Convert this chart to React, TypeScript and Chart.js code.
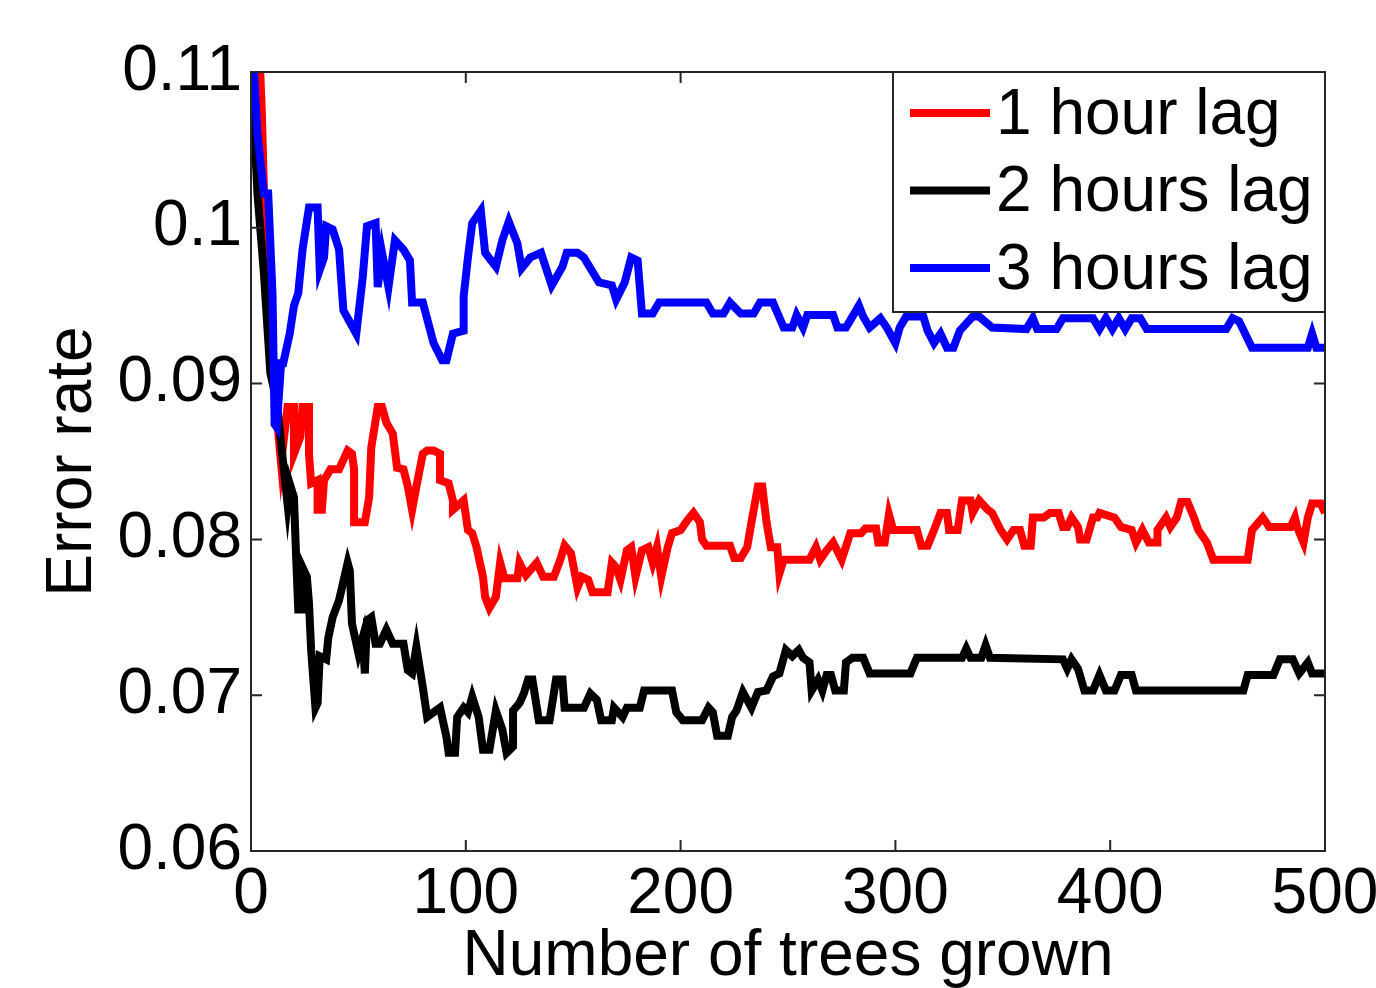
import React, { useEffect, useRef } from "react";
import { Chart, registerables } from "chart.js";

Chart.register(...registerables);

const FONT = "'Liberation Sans', Arial, Helvetica, sans-serif";

const seriesNames = ["1 hour lag", "2 hours lag", "3 hours lag"];
const seriesColors = ["#ff0000", "#000000", "#0000ff"];

const xTickValues = [0, 100, 200, 300, 400, 500];
const xTickLabels = ["0", "100", "200", "300", "400", "500"];
const yTickValues = [0.06, 0.07, 0.08, 0.09, 0.1, 0.11];
const yTickLabels = ["0.06", "0.07", "0.08", "0.09", "0.1", "0.11"];

const xTitle = "Number of trees grown";
const yTitle = "Error rate";

// [number of trees, error rate]
const oneHourLag: [number, number][] = [
  [1, 0.115], [4, 0.111], [5, 0.1076], [7, 0.0975], [10, 0.0909], [14, 0.0849], [17, 0.0885], [20, 0.0885],
  [20, 0.0855], [23, 0.0866], [24, 0.0885], [27, 0.0885], [27, 0.0855], [28, 0.0836], [31, 0.0838], [31, 0.0819],
  [33, 0.0819], [34, 0.0838], [37, 0.0845], [41, 0.0845], [45, 0.0857], [47, 0.0855], [48, 0.0845], [48, 0.0811],
  [53, 0.0811], [55, 0.0827], [56, 0.0859], [59, 0.0885], [61, 0.0885], [63, 0.0875], [66, 0.0868], [68, 0.0846],
  [71, 0.0845], [73, 0.0834], [75, 0.0819], [77, 0.0834], [80, 0.0855], [82, 0.0857], [85, 0.0857], [88, 0.0855],
  [88, 0.0838], [92, 0.0836], [94, 0.0825], [94, 0.0819], [99, 0.0825], [101, 0.0806], [103, 0.0804], [105, 0.0795],
  [108, 0.0776], [109, 0.0763], [111, 0.0756], [114, 0.0763], [116, 0.0785], [118, 0.0775], [124, 0.0775], [125, 0.0785],
  [128, 0.0777], [133, 0.0785], [136, 0.0776], [141, 0.0776], [144, 0.0787], [146, 0.0796], [149, 0.0791], [152, 0.0769],
  [154, 0.0776], [157, 0.0774], [159, 0.0766], [166, 0.0766], [168, 0.0785], [170, 0.0782], [172, 0.0774], [175, 0.0793],
  [177, 0.0795], [179, 0.0776], [182, 0.0793], [185, 0.0795], [187, 0.0785], [189, 0.0795], [191, 0.0776], [194, 0.0795],
  [196, 0.0804], [200, 0.0806], [203, 0.0812], [206, 0.0817], [209, 0.0811], [210, 0.08], [212, 0.0796], [223, 0.0796],
  [225, 0.0788], [228, 0.0788], [231, 0.0795], [233, 0.0811], [236, 0.0834], [238, 0.0834], [240, 0.0811], [242, 0.0795],
  [245, 0.0795], [246, 0.0778], [248, 0.0787], [260, 0.0787], [263, 0.0795], [265, 0.0787], [268, 0.0793], [271, 0.0798],
  [275, 0.0787], [279, 0.0804], [284, 0.0804], [286, 0.0807], [291, 0.0807], [292, 0.0798], [295, 0.0798], [297, 0.0816],
  [299, 0.0806], [310, 0.0806], [312, 0.0796], [315, 0.0796], [318, 0.0806], [321, 0.0817], [324, 0.0817], [325, 0.0806],
  [329, 0.0806], [331, 0.0825], [335, 0.0825], [336, 0.0817], [339, 0.0825], [343, 0.0819], [345, 0.0817], [349, 0.0806],
  [352, 0.08], [355, 0.0806], [358, 0.0806], [360, 0.0796], [363, 0.0796], [364, 0.0814], [369, 0.0814], [372, 0.0817],
  [376, 0.0817], [378, 0.0808], [380, 0.0808], [382, 0.0814], [385, 0.0808], [386, 0.08], [389, 0.08], [392, 0.0814],
  [394, 0.0814], [395, 0.0817], [402, 0.0814], [405, 0.0808], [410, 0.0806], [412, 0.0798], [415, 0.0806], [418, 0.0798],
  [422, 0.0798], [422, 0.0806], [426, 0.0814], [428, 0.0808], [431, 0.0814], [433, 0.0824], [436, 0.0824], [439, 0.0814],
  [441, 0.0806], [445, 0.0798], [448, 0.0787], [464, 0.0787], [466, 0.0806], [471, 0.0814], [474, 0.0808], [484, 0.0808],
  [486, 0.0814], [487, 0.0808], [490, 0.0798], [492, 0.0814], [494, 0.0823], [498, 0.0823], [500, 0.0817],
];

const twoHoursLag: [number, number][] = [
  [1, 0.108], [3, 0.1022], [6, 0.0971], [9, 0.0907], [12, 0.0888], [15, 0.0849], [17, 0.0823], [18, 0.0836],
  [20, 0.0827], [21, 0.0789], [22, 0.0755], [24, 0.0755], [24, 0.0782], [26, 0.0776], [27, 0.0759], [28, 0.0729],
  [30, 0.0692], [31, 0.0695], [32, 0.0725], [35, 0.0723], [36, 0.0737], [38, 0.075], [41, 0.0761], [45, 0.0785],
  [46, 0.078], [47, 0.0746], [50, 0.0727], [52, 0.0737], [53, 0.0714], [54, 0.0748], [56, 0.075], [58, 0.0733],
  [60, 0.0733], [63, 0.0742], [66, 0.0733], [71, 0.0733], [73, 0.0716], [75, 0.0714], [77, 0.0731], [80, 0.0705],
  [82, 0.0686], [85, 0.0689], [88, 0.0692], [91, 0.0673], [92, 0.0663], [95, 0.0663], [96, 0.0686], [99, 0.0692],
  [101, 0.0689], [103, 0.0699], [106, 0.0686], [108, 0.0665], [111, 0.0665], [114, 0.069], [117, 0.0678], [119, 0.0663],
  [122, 0.0667], [122, 0.069], [125, 0.0695], [127, 0.0701], [129, 0.071], [131, 0.071], [134, 0.0684], [139, 0.0684],
  [142, 0.071], [145, 0.071], [146, 0.0692], [155, 0.0692], [158, 0.0701], [161, 0.0697], [163, 0.0684], [168, 0.0684],
  [169, 0.0692], [173, 0.0686], [175, 0.0692], [181, 0.0692], [183, 0.0703], [196, 0.0703], [198, 0.0689], [201, 0.0684],
  [210, 0.0684], [213, 0.0692], [215, 0.0689], [217, 0.0674], [222, 0.0674], [224, 0.0686], [226, 0.069], [229, 0.0702],
  [233, 0.0692], [236, 0.0702], [240, 0.0703], [243, 0.0712], [246, 0.0714], [249, 0.0729], [252, 0.0725], [255, 0.0729],
  [257, 0.0724], [260, 0.0721], [261, 0.0703], [264, 0.071], [266, 0.0703], [268, 0.0713], [270, 0.0713], [272, 0.0703],
  [276, 0.0703], [277, 0.0721], [280, 0.0724], [285, 0.0724], [288, 0.0714], [307, 0.0714], [310, 0.0724], [331, 0.0724],
  [333, 0.073], [335, 0.0724], [340, 0.0724], [342, 0.0732], [344, 0.0724], [378, 0.0723], [380, 0.0717], [382, 0.0723],
  [385, 0.0717], [388, 0.0703], [392, 0.0703], [395, 0.0713], [398, 0.0703], [402, 0.0703], [405, 0.0713], [410, 0.0713],
  [412, 0.0703], [462, 0.0703], [464, 0.0713], [476, 0.0713], [479, 0.0723], [485, 0.0723], [488, 0.0714], [492, 0.0721],
  [494, 0.0714], [500, 0.0714],
];

const threeHoursLag: [number, number][] = [
  [1, 0.111], [3, 0.106], [6, 0.1022], [8, 0.1022], [10, 0.0958], [11, 0.0874], [12, 0.0872], [14, 0.0913],
  [15, 0.0913], [18, 0.0932], [20, 0.095], [22, 0.0958], [24, 0.0986], [27, 0.1013], [31, 0.1013], [32, 0.0973],
  [34, 0.0981], [35, 0.1001], [38, 0.0999], [41, 0.0986], [43, 0.0947], [49, 0.0932], [52, 0.0968], [54, 0.1001],
  [58, 0.1003], [59, 0.0962], [61, 0.0984], [64, 0.0962], [67, 0.0992], [71, 0.0986], [74, 0.0979], [75, 0.0952],
  [80, 0.0952], [85, 0.0926], [89, 0.0915], [91, 0.0915], [94, 0.0932], [99, 0.0934], [99, 0.0956], [101, 0.0981],
  [103, 0.1003], [107, 0.1011], [109, 0.0984], [114, 0.0975], [117, 0.0992], [120, 0.1004], [124, 0.099], [126, 0.0974],
  [130, 0.0981], [135, 0.0984], [140, 0.0963], [145, 0.0975], [147, 0.0984], [152, 0.0984], [155, 0.0981], [158, 0.0974],
  [162, 0.0965], [168, 0.0963], [170, 0.0954], [174, 0.0965], [177, 0.0981], [180, 0.0979], [182, 0.0945], [187, 0.0945],
  [190, 0.0952], [212, 0.0952], [215, 0.0945], [220, 0.0945], [223, 0.0952], [228, 0.0945], [234, 0.0945], [237, 0.0952],
  [243, 0.0952], [248, 0.0936], [252, 0.0936], [254, 0.0944], [257, 0.0936], [259, 0.0944], [271, 0.0944], [273, 0.0936],
  [277, 0.0936], [280, 0.0943], [283, 0.095], [285, 0.0943], [288, 0.0936], [293, 0.0942], [296, 0.0936], [300, 0.0926],
  [302, 0.0936], [305, 0.0943], [313, 0.0943], [315, 0.0934], [318, 0.0926], [321, 0.0932], [324, 0.0923], [327, 0.0923],
  [330, 0.0934], [336, 0.0943], [339, 0.0943], [345, 0.0936], [361, 0.0935], [364, 0.0942], [366, 0.0935], [375, 0.0935],
  [378, 0.0942], [392, 0.0942], [395, 0.0935], [398, 0.0942], [401, 0.0935], [404, 0.0942], [407, 0.0935], [410, 0.0942],
  [414, 0.0942], [417, 0.0935], [454, 0.0935], [457, 0.0942], [460, 0.094], [466, 0.0923], [492, 0.0923], [494, 0.0932],
  [496, 0.0923], [500, 0.0923],
];

const seriesData = [oneHourLag, twoHoursLag, threeHoursLag];

const FS = 64;

function labelFor(values: number[], labels: string[], v: number): string {
  for (let i = 0; i < values.length; i++) {
    if (Math.abs(values[i] - v) < 1e-9) return labels[i];
  }
  return "";
}

const framePlugin = {
  id: "matlabFrame",
  afterDatasetsDraw(chart: any) {
    const { ctx, chartArea: a, scales } = chart;
    ctx.save();
    ctx.strokeStyle = "#262626";
    ctx.lineWidth = 2;
    ctx.strokeRect(a.left, a.top, a.right - a.left, a.bottom - a.top);
    const TL = 11;
    ctx.beginPath();
    for (const v of xTickValues) {
      const px = scales.x.getPixelForValue(v);
      ctx.moveTo(px, a.bottom);
      ctx.lineTo(px, a.bottom - TL);
      ctx.moveTo(px, a.top);
      ctx.lineTo(px, a.top + TL);
    }
    for (const v of yTickValues) {
      const py = scales.y.getPixelForValue(v);
      ctx.moveTo(a.left, py);
      ctx.lineTo(a.left + TL, py);
      ctx.moveTo(a.right, py);
      ctx.lineTo(a.right - TL, py);
    }
    ctx.stroke();

    // legend box in the upper right corner
    const w = 432;
    const h = 240;
    const lx = a.right - w;
    const ly = a.top;
    ctx.fillStyle = "#ffffff";
    ctx.fillRect(lx, ly, w, h);
    ctx.strokeStyle = "#262626";
    ctx.lineWidth = 2;
    ctx.strokeRect(lx, ly, w, h);
    ctx.font = `${FS}px ${FONT}`;
    ctx.textBaseline = "middle";
    ctx.textAlign = "left";
    seriesNames.forEach((name, i) => {
      const y = ly + 41 + i * 77.5;
      ctx.strokeStyle = seriesColors[i];
      ctx.lineWidth = 8;
      ctx.beginPath();
      ctx.moveTo(lx + 17, y);
      ctx.lineTo(lx + 97, y);
      ctx.stroke();
      ctx.fillStyle = "#000000";
      ctx.fillText(name, lx + 103, y + 3);
    });
    ctx.restore();
  },
};

export default function App() {
  const canvasRef = useRef<HTMLCanvasElement | null>(null);

  useEffect(() => {
    const canvas = canvasRef.current;
    if (!canvas) return;
    Chart.defaults.font.family = FONT;
    const chart = new Chart(canvas, {
      type: "line",
      data: {
        datasets: seriesNames.map((name, i) => ({
          label: name,
          data: seriesData[i].map(([x, y]) => ({ x, y })),
          borderColor: seriesColors[i],
          backgroundColor: seriesColors[i],
          borderWidth: 8,
          pointRadius: 0,
          tension: 0,
          fill: false,
          clip: 0,
          borderJoinStyle: "miter" as const,
          order: 3 - i,
        })),
      },
      options: {
        animation: false,
        responsive: true,
        maintainAspectRatio: false,
        devicePixelRatio: 1,
        layout: { padding: { top: 72, right: 51, left: 0, bottom: 0 } },
        plugins: {
          legend: { display: false },
          tooltip: { enabled: false },
        },
        scales: {
          x: {
            type: "linear",
            min: 0,
            max: 500,
            grid: { display: false, drawTicks: false },
            border: { display: false },
            afterBuildTicks: (s: any) => {
              s.ticks = xTickValues.map((v) => ({ value: v }));
            },
            afterFit: (s: any) => {
              s.height = 137;
              s.paddingLeft = 0;
              s.paddingRight = 0;
            },
            ticks: {
              color: "#000",
              padding: 12,
              maxRotation: 0,
              autoSkip: false,
              font: { size: FS, family: FONT, lineHeight: 1 },
              callback: (v: any) => labelFor(xTickValues, xTickLabels, Number(v)),
            },
            title: {
              display: true,
              text: xTitle,
              color: "#000",
              font: { size: FS, family: FONT, lineHeight: 1 },
              padding: { top: 0, bottom: -1 },
            },
          },
          y: {
            type: "linear",
            min: 0.06,
            max: 0.11,
            grid: { display: false, drawTicks: false },
            border: { display: false },
            afterBuildTicks: (s: any) => {
              s.ticks = yTickValues.map((v) => ({ value: v }));
            },
            afterFit: (s: any) => {
              s.width = 251;
              s.paddingTop = 0;
              s.paddingBottom = 0;
            },
            ticks: {
              color: "#000",
              padding: 9,
              autoSkip: false,
              font: { size: FS, family: FONT, lineHeight: 1 },
              callback: (v: any) => labelFor(yTickValues, yTickLabels, Number(v)),
            },
            title: {
              display: true,
              text: yTitle,
              color: "#000",
              font: { size: FS, family: FONT, lineHeight: 1 },
              padding: { top: 41, bottom: 0 },
            },
          },
        },
      },
      plugins: [framePlugin],
    });
    return () => chart.destroy();
  }, []);

  return (
    <div
      style={{
        position: "fixed",
        left: 0,
        top: 0,
        width: 1376,
        height: 988,
        background: "#ffffff",
      }}
    >
      <canvas ref={canvasRef} />
    </div>
  );
}
